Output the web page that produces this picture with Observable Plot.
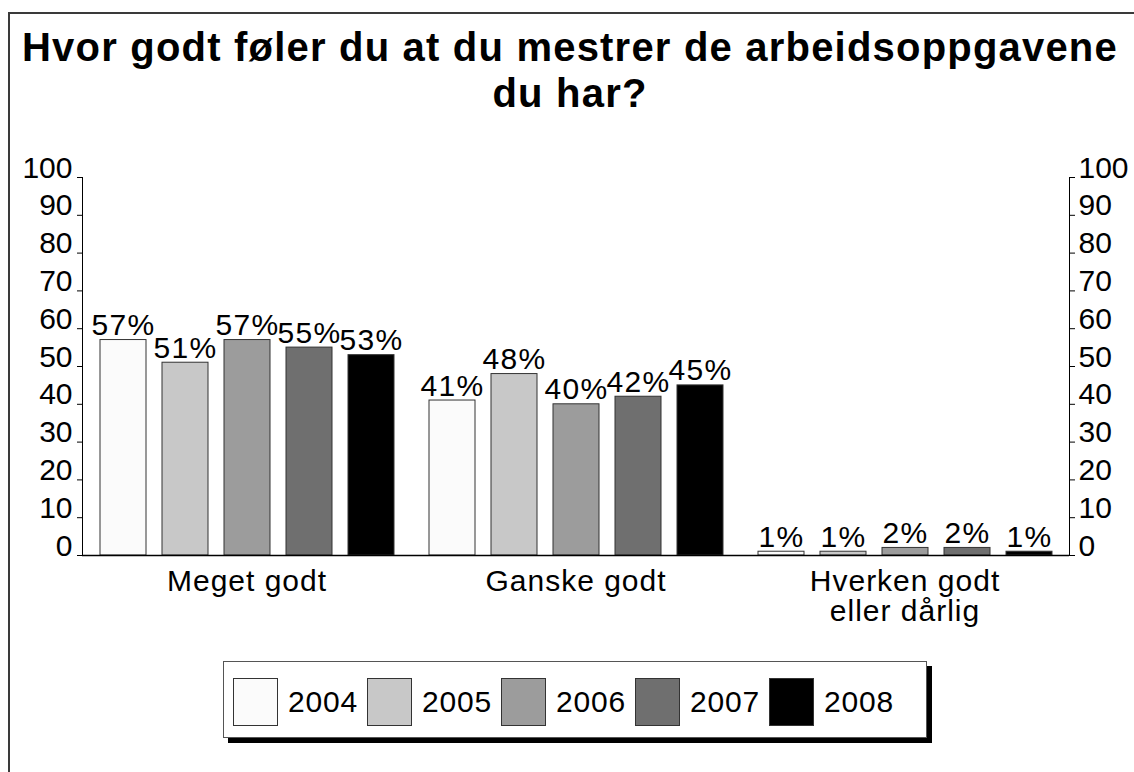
<!DOCTYPE html>
<html>
<head>
<meta charset="utf-8">
<script src="https://cdn.jsdelivr.net/npm/d3@7"></script>
<script src="https://cdn.jsdelivr.net/npm/@observablehq/plot@0.6"></script>
<style>
  body { margin: 0; background: #fff; }
  #wrap { position: relative; width: 1134px; height: 772px; overflow: hidden; background: #fff;
          font-family: "Liberation Sans", Arial, sans-serif; color: #000; }
  #frame { position: absolute; left: 8px; top: 12px; width: 1300px; height: 1000px;
           border: 2px solid #3a3a3a; box-sizing: border-box; }
  #title { position: absolute; left: 0; top: 25px; width: 1140px; text-align: center;
           font-weight: bold; font-size: 40px; line-height: 45.6px; letter-spacing: 1.2px; }
  #chart { position: absolute; left: 0; top: 150px; }
  #chart g[aria-label="text"] text { letter-spacing: 1.3px; }
  #chart g[aria-label="fx-axis tick label"] text { letter-spacing: 1px; }
  #legend { position: absolute; left: 223px; top: 661px; width: 704px; height: 77px;
            box-sizing: border-box; border: 1px solid #555; background: #fff;
            box-shadow: 5px 5px 0 #000; display: flex; align-items: flex-start;
            padding: 16px 0 0 9px; }
  .item { display: flex; align-items: center; height: 48px; }
  .sw { width: 45px; height: 48px; box-sizing: border-box; border: 1px solid #333; }
  .lab { width: 68px; margin: 0 11px 0 10px; font-size: 30px; line-height: 48px; letter-spacing: 0.8px; }
</style>
</head>
<body>
<div id="wrap">
  <div id="frame"></div>
  <div id="title">Hvor godt føler du at du mestrer de arbeidsoppgavene<br>du har?</div>
  <div id="chart"></div>
  <div id="legend"></div>
</div>
<script>
const categories = ["Meget godt", "Ganske godt", "Hverken godt eller dårlig"];
const categoryLabels = ["Meget godt", "Ganske godt", "Hverken godt\neller dårlig"];
const years = ["2004", "2005", "2006", "2007", "2008"];
const colors = ["#fbfbfb", "#c8c8c8", "#9c9c9c", "#6f6f6f", "#000000"];
const megetGodt = [57, 51, 57, 55, 53];
const ganskeGodt = [41, 48, 40, 42, 45];
const hverkenGodt = [1, 1, 2, 2, 1];
const yTicks = [0, 10, 20, 30, 40, 50, 60, 70, 80, 90, 100];

const seriesByCategory = [megetGodt, ganskeGodt, hverkenGodt];
const data = categories.flatMap((c, i) =>
  years.map((y, j) => ({category: c, year: y, value: seriesByCategory[i][j]})));

const chart = Plot.plot({
  width: 1134,
  height: 490,
  marginLeft: 82,
  marginRight: 65,
  marginTop: 27,
  marginBottom: 85,
  style: {fontFamily: "'Liberation Sans', Arial, sans-serif", fontSize: "30px", color: "#000",
          background: "transparent", overflow: "visible"},
  fx: {domain: categories, padding: 0},
  x: {domain: years, padding: 0.26, axis: null},
  y: {domain: [0, 100]},
  color: {domain: years, range: colors},
  marks: [
    Plot.barY(data, {fx: "category", x: "year", y: "value", fill: "year",
                     stroke: "#333", strokeWidth: 1}),
    Plot.ruleY([0], {stroke: "#000", strokeWidth: 1.5}),
    Plot.frame({anchor: "left", facetAnchor: "left", stroke: "#000"}),
    Plot.frame({anchor: "right", facetAnchor: "right", stroke: "#000"}),
    Plot.axisY(yTicks, {anchor: "left", tickSize: 5, tickPadding: 5, lineAnchor: "bottom", label: null}),
    Plot.axisY(yTicks, {anchor: "right", tickSize: 5, tickPadding: 4, lineAnchor: "bottom", label: null}),
    Plot.axisFx({anchor: "bottom", tickSize: 0, tickPadding: 14, label: null,
                 tickFormat: c => categoryLabels[categories.indexOf(c)]}),
    Plot.text(data, {fx: "category", x: "year", y: "value", text: d => d.value + "%",
                     dy: -5, lineAnchor: "bottom", fill: "#000"})
  ]
});
document.getElementById("chart").appendChild(chart);

const legend = document.getElementById("legend");
years.forEach((y, i) => {
  const item = document.createElement("div");
  item.className = "item";
  const sw = document.createElement("div");
  sw.className = "sw";
  sw.style.background = chart.scale("color").apply(y);
  const lab = document.createElement("div");
  lab.className = "lab";
  lab.textContent = y;
  item.appendChild(sw);
  item.appendChild(lab);
  legend.appendChild(item);
});
</script>
</body>
</html>
